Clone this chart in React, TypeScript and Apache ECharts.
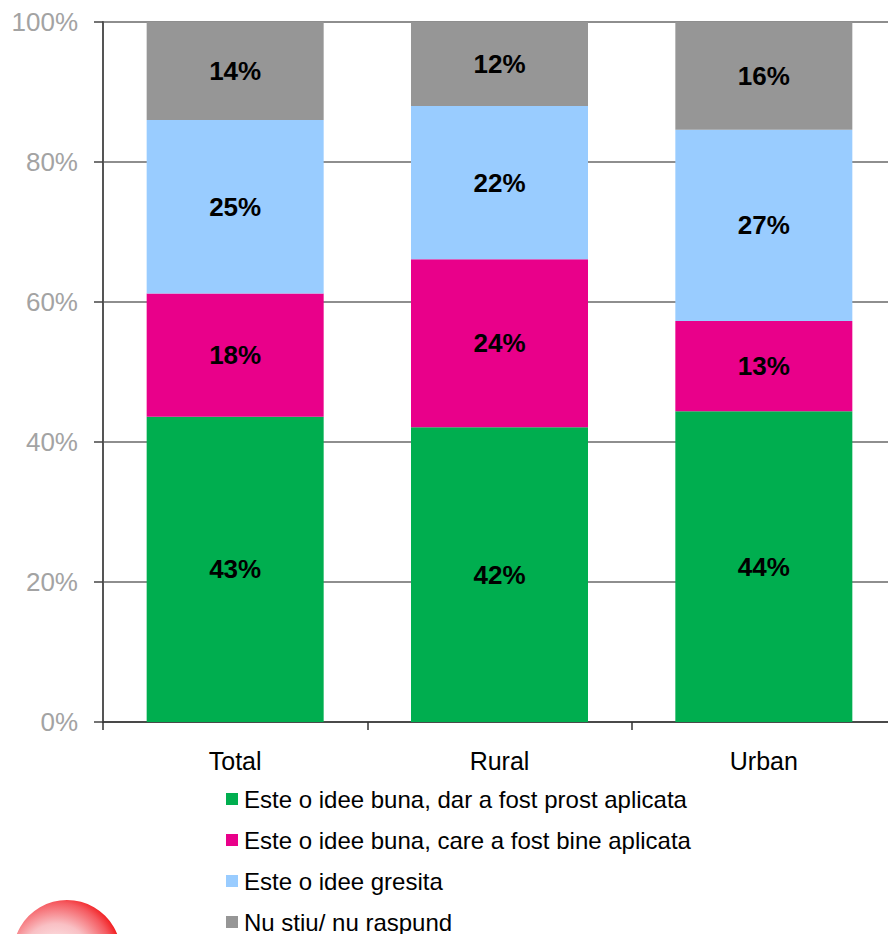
import React, { useEffect, useRef } from "react";
import * as echarts from "echarts";

const categories = ["Total", "Rural", "Urban"];
const ideaBadlyApplied = [43.6, 42.1, 44.4];
const ideaWellApplied = [17.6, 24.0, 12.9];
const ideaWrong = [24.8, 21.9, 27.3];
const dontKnow = [14.0, 12.0, 15.4];
const labelsBadlyApplied = ["43%", "42%", "44%"];
const labelsWellApplied = ["18%", "24%", "13%"];
const labelsWrong = ["25%", "22%", "27%"];
const labelsDontKnow = ["14%", "12%", "16%"];
const seriesNames = [
  "Este o idee buna, dar a fost prost aplicata",
  "Este o idee buna, care a fost bine aplicata",
  "Este o idee gresita",
  "Nu stiu/ nu raspund",
];
const yTicks = [0, 20, 40, 60, 80, 100];

const FONT = "'Liberation Sans', Arial, sans-serif";

export default function App() {
  const ref = useRef<HTMLDivElement>(null);
  useEffect(() => {
    const chart = echarts.init(ref.current!, undefined, { renderer: "svg" });
    const makeSeries = (name: string, data: number[], labels: string[], color: string) => ({
      name,
      type: "bar",
      stack: "all",
      data,
      barWidth: 177,
      itemStyle: { color },
      label: {
        show: true,
        position: "inside",
        formatter: (p: any) => labels[p.dataIndex],
        fontFamily: FONT,
        fontSize: 26,
        fontWeight: "bold",
        color: "#000",
      },
    });
    chart.setOption({
      animation: false,
      backgroundColor: "#fff",
      grid: { left: 103, top: 22, width: 793, height: 700, containLabel: false, outerBoundsMode: "none" },
      xAxis: {
        type: "category",
        data: categories,
        axisLine: { onZero: false, lineStyle: { color: "#333", width: 1.5 } },
        axisTick: { show: true, alignWithLabel: false, length: 8, lineStyle: { color: "#333", width: 1.5 } },
        axisLabel: { color: "#000", fontFamily: FONT, fontSize: 25, margin: 26 },
      },
      yAxis: {
        type: "value",
        min: yTicks[0],
        max: yTicks[yTicks.length - 1],
        interval: 20,
        axisLine: { show: true, lineStyle: { color: "#555", width: 2 } },
        axisTick: { show: true, length: 9, lineStyle: { color: "#444", width: 1.5 } },
        axisLabel: { formatter: "{value}%", color: "#a3a3a3", fontFamily: FONT, fontSize: 26, margin: 25 },
        splitLine: { show: true, lineStyle: { color: "#8e8e8e", width: 2 } },
      },
      legend: {
        orient: "vertical",
        left: 221,
        top: 782,
        height: 170,
        icon: "rect",
        itemWidth: 12,
        itemHeight: 12,
        itemGap: 17,
        selectedMode: false,
        data: seriesNames,
        textStyle: { color: "#000", fontFamily: FONT, fontSize: 24, padding: [0, 0, 0, 1] },
      },
      graphic: [
        {
          type: "circle",
          shape: { cx: 67, cy: 954, r: 54 },
          style: {
            fill: new echarts.graphic.RadialGradient(0.4, 0.55, 0.66, [
              { offset: 0, color: "#ffffff" },
              { offset: 0.5, color: "#f9c0c4" },
              { offset: 0.8, color: "#f55a60" },
              { offset: 1, color: "#f00000" },
            ]),
          },
        },
      ],
      series: [
        makeSeries(seriesNames[0], ideaBadlyApplied, labelsBadlyApplied, "#00ae4f"),
        makeSeries(seriesNames[1], ideaWellApplied, labelsWellApplied, "#e9008a"),
        makeSeries(seriesNames[2], ideaWrong, labelsWrong, "#99ccff"),
        makeSeries(seriesNames[3], dontKnow, labelsDontKnow, "#969696"),
      ],
    });
    return () => chart.dispose();
  }, []);
  return <div ref={ref} style={{ position: "absolute", left: 0, top: 0, width: 888, height: 934 }} />;
}
